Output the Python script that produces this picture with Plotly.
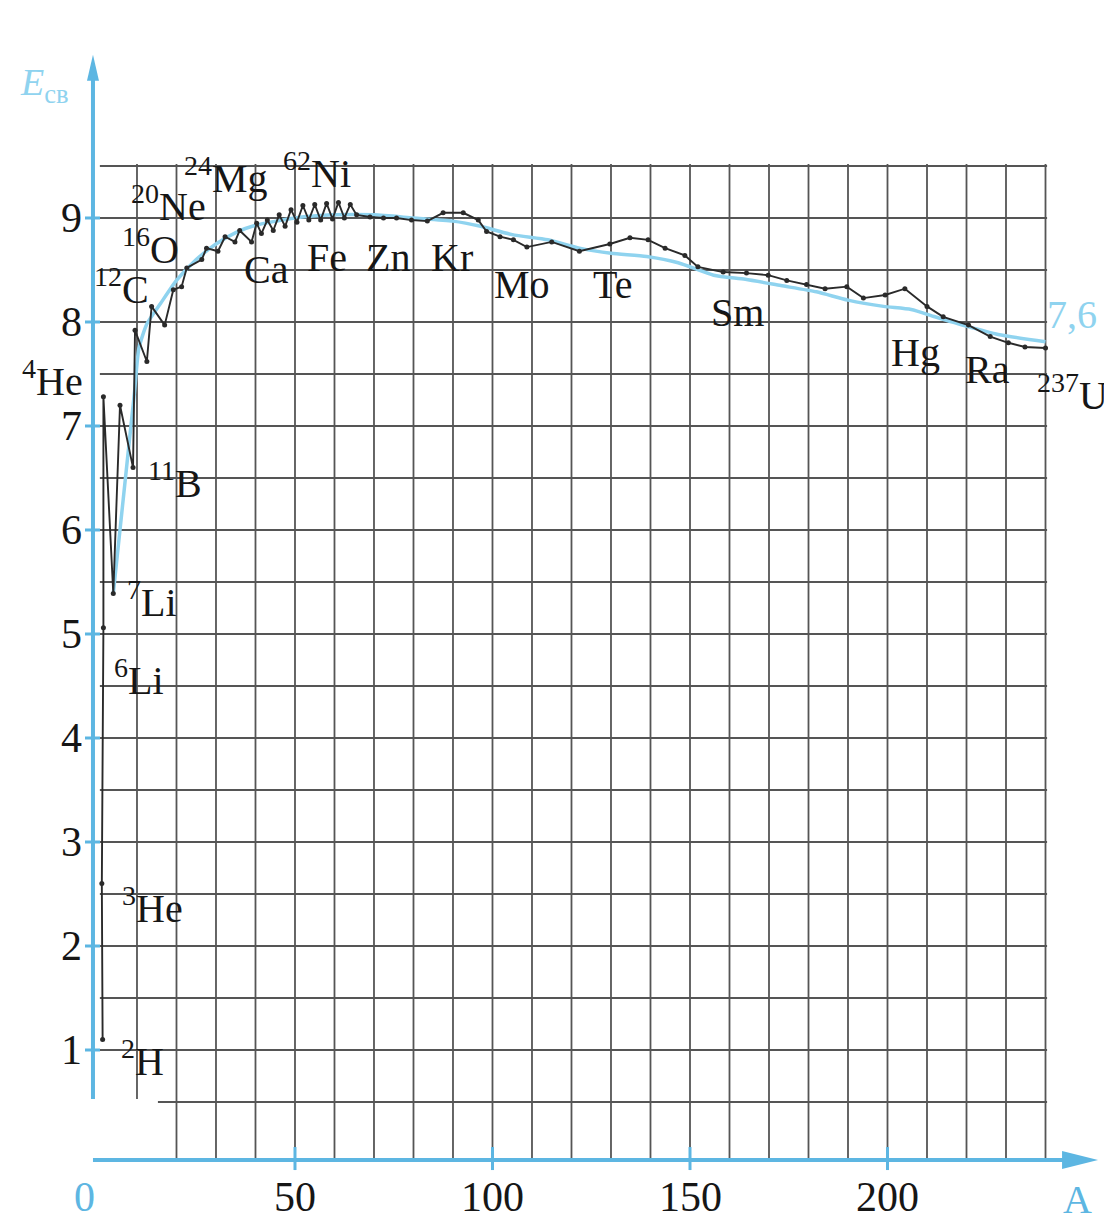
import plotly.graph_objects as go

# ---------------- data ----------------
exp_A = [1.3, 1.1, 1.5, 1.5, 4.0, 5.7, 9.0, 9.5, 12.5, 13.7, 17.0, 19.2, 21.3, 22.6,
         26.4, 27.6, 30.5, 32.3, 34.8, 36.0, 39.0, 40.3, 41.5, 43.0, 44.5, 46.0, 47.5,
         49.0, 50.5, 52.0, 53.5, 55.0, 56.5, 58.0, 59.5, 61.0, 62.5, 64.0, 65.6, 69.0,
         72.4, 75.7, 79.5, 83.5, 87.5, 92.6, 96.4, 98.5, 101.9, 105.3, 108.7, 115.0,
         122.0, 129.7, 134.8, 139.4, 143.7, 148.7, 152.0, 158.4, 164.3, 169.8, 174.5,
         179.5, 184.2, 189.7, 193.9, 199.4, 204.4, 210.0, 214.1, 220.5, 226.0, 230.6,
         234.8, 240.0]
exp_E = [1.10, 2.60, 5.06, 7.28, 5.39, 7.20, 6.60, 7.92, 7.62, 8.15, 7.97, 8.31, 8.34, 8.52,
         8.60, 8.71, 8.68, 8.82, 8.77, 8.88, 8.77, 8.95, 8.85, 8.98, 8.88, 9.03, 8.92,
         9.08, 8.96, 9.12, 8.98, 9.13, 8.98, 9.14, 8.99, 9.15, 9.00, 9.13, 9.03, 9.01,
         9.00, 9.00, 8.98, 8.97, 9.05, 9.05, 8.98, 8.87, 8.82, 8.79, 8.72, 8.77,
         8.68, 8.75, 8.81, 8.79, 8.71, 8.64, 8.53, 8.48, 8.47, 8.45, 8.40,
         8.36, 8.32, 8.34, 8.23, 8.26, 8.32, 8.15, 8.05, 7.97, 7.86, 7.80,
         7.76, 7.75]

fit_A = [4.0, 9.3, 10.5, 12.5, 16.0, 20.0, 25.0, 30.0, 35.0, 40.0, 50.0, 60.0, 70.0, 80.0,
         90.0, 97.0, 105.0, 114.0, 122.0, 130.0, 139.0, 147.0, 156.0, 164.0, 173.0,
         182.0, 190.0, 199.0, 206.0, 212.0, 220.0, 228.0, 240.0]
fit_E = [5.39, 7.30, 7.75, 7.98, 8.18, 8.40, 8.60, 8.75, 8.86, 8.93, 9.00, 9.03, 9.03, 9.00,
         8.97, 8.92, 8.84, 8.79, 8.71, 8.66, 8.63, 8.57, 8.45, 8.41, 8.35,
         8.29, 8.21, 8.15, 8.12, 8.05, 7.96, 7.88, 7.81]

# nuclide labels: text, A, E (label centre)
label_text = ["<sup>24</sup>Mg", "<sup>62</sup>Ni", "<sup>20</sup>Ne", "<sup>16</sup>O",
              "<sup>12</sup>C", "<sup>4</sup>He", "Ca", "Fe", "Zn", "Kr", "Mo", "Te",
              "Sm", "Hg", "Ra", "<sup>11</sup>B", "<sup>7</sup>Li", "<sup>6</sup>Li",
              "<sup>3</sup>He", "<sup>2</sup>H"]
label_A = [32.5, 55.6, 18.1, 13.5, 6.0, -11.3, 42.7, 58.1, 73.5, 89.7, 107.5, 130.5,
           162.0, 207.0, 225.2, 19.6, 13.8, 10.5, 14.0, 11.3]
label_E = [9.41, 9.46, 9.14, 8.73, 8.34, 7.46, 8.50, 8.62, 8.62, 8.62, 8.36, 8.36,
           8.09, 7.71, 7.54, 6.48, 5.33, 4.58, 2.39, 0.92]

x_ticks = [50, 100, 150, 200]
y_ticks = [1, 2, 3, 4, 5, 6, 7, 8, 9]
grid_x = list(range(10, 250, 10))
grid_y = [0.5 * k for k in range(1, 20)]

# ---------------- styling ----------------
BLUE = "#5db6e2"
CURVE_BLUE = "#8fd3ef"
INK = "#161616"
GRID = "#555555"
SERIF = "Liberation Serif, Times New Roman, serif"

# axis ranges chosen so the figure spans the whole page
X0, X1 = -24.68, 254.81
Y0, Y1 = -0.673, 11.096
PX_X = 1104 / (X1 - X0)   # pixels per A unit
PX_Y = 1224 / (Y1 - Y0)   # pixels per E unit

fig = go.Figure()

shapes = []
# grid
for gx in grid_x:
    shapes.append(dict(type="line", x0=gx, x1=gx, y0=-0.06, y1=9.52,
                       line=dict(color=GRID, width=1.8), layer="below"))
for gy in grid_y:
    shapes.append(dict(type="line", x0=0.6, x1=240.4, y0=gy, y1=gy,
                       line=dict(color=GRID, width=1.8), layer="below"))

ax_x = -1.14     # A position of the E axis
ax_y = -0.058    # E position of the A axis
y_tip = 10.57
x_tip = 253.3

# white patch lower-left (covers grid there)
shapes.append(dict(type="rect", x0=X0, x1=15.3, y0=-0.045, y1=0.53,
                   fillcolor="white", line=dict(width=0), layer="above"))
# axes
shapes.append(dict(type="line", x0=ax_x, x1=ax_x, y0=0.53, y1=y_tip - 20 / PX_Y,
                   line=dict(color=BLUE, width=4), layer="above"))
shapes.append(dict(type="line", x0=ax_x, x1=x_tip - 30 / PX_X, y0=ax_y, y1=ax_y,
                   line=dict(color=BLUE, width=4), layer="above"))
# arrow heads
shapes.append(dict(type="path",
                   path=f"M {ax_x} {y_tip} L {ax_x - 6 / PX_X} {y_tip - 26 / PX_Y} "
                        f"L {ax_x + 6 / PX_X} {y_tip - 26 / PX_Y} Z",
                   fillcolor=BLUE, line=dict(width=0), layer="above"))
shapes.append(dict(type="path",
                   path=f"M {x_tip} {ax_y} L {x_tip - 36 / PX_X} {ax_y + 9 / PX_Y} "
                        f"L {x_tip - 36 / PX_X} {ax_y - 9 / PX_Y} Z",
                   fillcolor=BLUE, line=dict(width=0), layer="above"))
# small ticks
for t in y_ticks:
    shapes.append(dict(type="line", x0=ax_x - 8 / PX_X, x1=ax_x + 7 / PX_X, y0=t, y1=t,
                       line=dict(color=BLUE, width=3), layer="above"))
for t in x_ticks:
    shapes.append(dict(type="line", x0=t, x1=t, y0=ax_y + 13 / PX_Y, y1=ax_y - 10 / PX_Y,
                       line=dict(color=BLUE, width=3), layer="above"))

# traces
fig.add_trace(go.Scatter(x=fit_A, y=fit_E, mode="lines",
                         line=dict(color=CURVE_BLUE, width=3.5, shape="spline", smoothing=0.6),
                         hoverinfo="skip", showlegend=False))
fig.add_trace(go.Scatter(x=exp_A, y=exp_E, mode="lines+markers",
                         line=dict(color="#2a2a2a", width=1.9),
                         marker=dict(color="#2a2a2a", size=5),
                         hoverinfo="skip", showlegend=False))

annotations = []
for t, a, e in zip(label_text, label_A, label_E):
    annotations.append(dict(x=a, y=e, text=t, showarrow=False, xanchor="center",
                            yanchor="middle", font=dict(family=SERIF, size=40, color=INK)))
annotations.append(dict(x=237.4, y=7.32, text="<sup>237</sup>U", showarrow=False,
                        xanchor="left", yanchor="middle",
                        font=dict(family=SERIF, size=40, color=INK)))
annotations.append(dict(x=239.9, y=8.07, text="7,6", showarrow=False, xanchor="left",
                        yanchor="middle", font=dict(family=SERIF, size=40, color=CURVE_BLUE)))
for t in y_ticks:
    annotations.append(dict(x=-3.3, y=t, text=str(t), showarrow=False, xanchor="right",
                            yanchor="middle", font=dict(family=SERIF, size=42, color=INK)))
for t in x_ticks:
    annotations.append(dict(x=t, y=-0.41, text=str(t), showarrow=False, xanchor="center",
                            yanchor="middle", font=dict(family=SERIF, size=42, color=INK)))
annotations.append(dict(x=-3.2, y=-0.41, text="0", showarrow=False, xanchor="center",
                        yanchor="middle", font=dict(family=SERIF, size=42, color=BLUE)))
annotations.append(dict(x=248.2, y=-0.44, text="A", showarrow=False, xanchor="center",
                        yanchor="middle", font=dict(family=SERIF, size=40, color=BLUE)))
annotations.append(dict(x=-13.3, y=10.28, text="<i>E</i><sub>св</sub>", showarrow=False,
                        xanchor="center", yanchor="middle",
                        font=dict(family=SERIF, size=38, color=CURVE_BLUE)))

fig.update_layout(
    width=1104, height=1224, autosize=False,
    margin=dict(l=0, r=0, t=0, b=0, pad=0),
    paper_bgcolor="white", plot_bgcolor="white",
    xaxis=dict(range=[X0, X1], visible=False, fixedrange=True),
    yaxis=dict(range=[Y0, Y1], visible=False, fixedrange=True),
    shapes=shapes, annotations=annotations,
)

fig.write_html("out.html", config={"displayModeBar": False},
               post_script="document.body.style.margin='0';")
